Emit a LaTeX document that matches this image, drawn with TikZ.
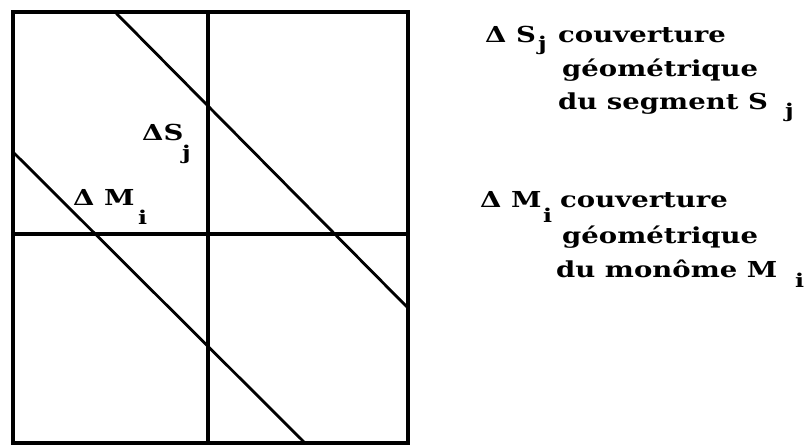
\documentclass[tikz,border=0pt]{standalone}
\usepackage{fontspec}
\setmainfont{DejaVu Serif}[FakeStretch=1.25]
\begin{document}
\begin{tikzpicture}[x=1pt,y=-1pt,
  lbl/.style={anchor=base west,inner sep=0pt,font=\fontsize{22}{26}\selectfont\bfseries},
  sub/.style={anchor=base west,inner sep=0pt,font=\fontsize{19}{22}\selectfont\bfseries},
  frame/.style={line width=3.6pt},
  grid/.style={line width=3.2pt},
  diag/.style={line width=2.8pt}]
\useasboundingbox (0,0) rectangle (806,445);
% frame and grid
\draw[frame] (13,12) rectangle (408,443);
\draw[grid] (208,12) -- (208,443);
\draw[grid] (13,234) -- (408,234);
% diagonals
\coordinate (sa) at (115,12);
\coordinate (sb) at (408,308);
\coordinate (ma) at (13,152);
\coordinate (mb) at (305,443);
\draw[diag] (sa) -- (sb);
\draw[diag] (ma) -- (mb);
% labels inside
\node[lbl] (ls) at (142,140) {ΔS};
\node[sub] (lsj) at (182,159) {j};
\node[lbl] (lm) at (73,205) {Δ M};
\node[sub] (lmi) at (138,224) {i};
% right legend 1
\node[lbl] (r1a) at (485,42) {Δ S};
\node[sub] (r1j) at (538,50) {j};
\node[lbl] (r1b) at (558,42) {couverture};
\node[lbl] (r1c) at (562,76) {géométrique};
\node[lbl] (r1d) at (558,109) {du segment S};
\node[sub] (r1e) at (785,117) {j};
% right legend 2
\node[lbl] (r2a) at (480,207) {Δ M};
\node[sub] (r2i) at (543,222) {i};
\node[lbl] (r2b) at (560,207) {couverture};
\node[lbl] (r2c) at (562,243) {géométrique};
\node[lbl] (r2d) at (556,277) {du monôme M};
\node[sub] (r2e) at (795,287) {i};
\end{tikzpicture}
\end{document}
